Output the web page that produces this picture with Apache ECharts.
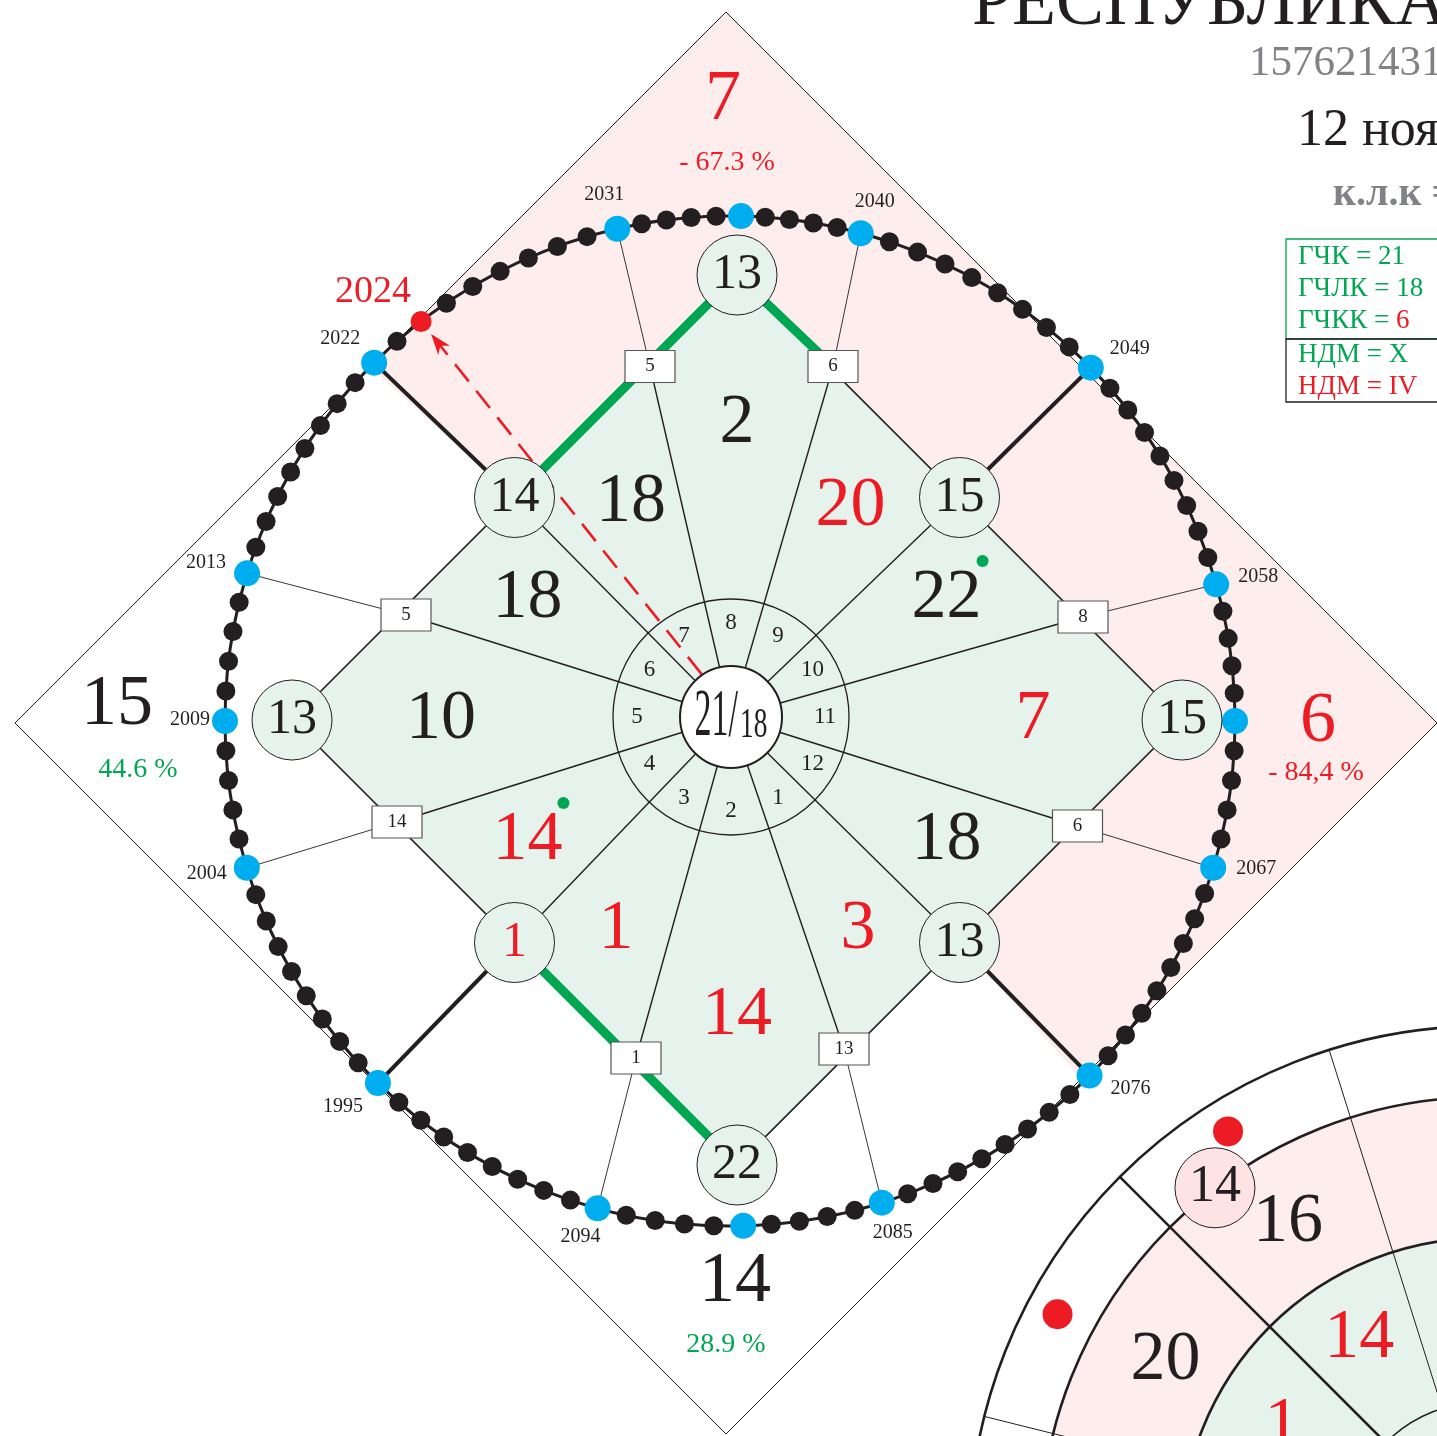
<!DOCTYPE html>
<html>
<head>
<meta charset="utf-8">
<title>РЕСПУБЛИКА</title>
<script src="https://cdn.jsdelivr.net/npm/echarts@6/dist/echarts.min.js"></script>
<style>
  html, body { margin: 0; padding: 0; background: #fff; }
  #chart { width: 1437px; height: 1436px; }
</style>
</head>
<body>
<div id="chart"></div>
<script>
// ===== данные =====
const hubTop = '21/', hubBottom = '18';
const ringLabels = ['1', '2', '3', '4', '5', '6', '7', '8', '9', '10', '11', '12'];
// сектора ромба, от 0° (справа) против часовой
const sectorValues = [7, 22, 20, 2, 18, 18, 10, 14, 1, 14, 3, 18];
const sectorColors = ['r', 'k', 'r', 'k', 'k', 'k', 'k', 'r', 'r', 'r', 'r', 'k'];
const sectorMarks  = [0, 1, 0, 0, 0, 0, 0, 1, 0, 0, 0, 0];
// круги на ромбе: 0°, 45°, 90° ...
const nodeValues = [15, 15, 13, 14, 13, 1, 22, 13];
const nodeColors = ['k', 'k', 'k', 'k', 'k', 'r', 'k', 'k'];
// годы на внешнем круге (цикл 108 лет)
const firstYear = 1995, stepYears = 9, cycleYears = 108;
const keyYears = [1995, 2004, 2013, 2022, 2031, 2040, 2049, 2058, 2067, 2076, 2085, 2094];
// квадратики на лучах к ключевым годам (на диагоналях — круги)
const boxValues = [null, 14, 5, null, 5, 6, null, 8, 6, null, 13, 1];
const axisDotLabels = ['', '', '2009', ''];   // синие точки на осях: право, верх, лево, низ
const markedYear = 2024;
// внешние четверти: верх, право, низ, лево
const quarterValues = [7, 6, 14, 15];
const quarterPercents = ['- 67.3 %', '- 84,4 %', '28.9 %', '44.6 %'];
const quarterColors = ['r', 'r', 'k', 'k'];
const quarterPctColors = ['r', 'r', 'g', 'g'];
// зелёные отрезки по ромбу
const greenEdges = [['n135', 'n90'], ['n90', 'b2040'], ['n225', 'n270']];
// шапка
const titleText = 'РЕСПУБЛИКА';
const codeText = '157621431';
const dateText = '12 ноября';
const klkText = 'к.л.к =';
const infoRows = [
  [['ГЧК = ', 'g'], ['21', 'g']],
  [['ГЧЛК = ', 'g'], ['18', 'g']],
  [['ГЧКК = ', 'g'], ['6', 'r']],
  [['НДМ = ', 'g'], ['X', 'g']],
  [['НДМ = ', 'r'], ['IV', 'r']]
];
// вторая схема в углу
const subOuterValues = [16, 20];
const subInnerValues = [14, 1];
const subNodeValue = 14;

// ===== оформление и разметка =====
const INK = '#231f20', RED = '#ed1c24', GREEN = '#00a651', BLUE = '#00aeef';
const PINK = '#fdeeed', MINT = '#e5f3ec', GRAY = '#808285';
const COL = { r: RED, k: INK, g: GREEN };
const FONT = '"Liberation Serif", "Times New Roman", serif';

const W = 1437, H = 1436;
const CX = 732, CY = 720;
const rad = d => d * Math.PI / 180;
function pol(r, deg, o) {
  o = o || [0, 0];
  return [o[0] + r * Math.cos(rad(deg)), o[1] + r * Math.sin(rad(deg))];
}
function pix(x, y) { return [x - CX, CY - y]; }

const HUB = pix(731, 717), DIA = pix(737, 720), DOT = pix(730, 721), OUT = pix(726, 723);
const R_OUT = 711, R_DIAM = 445, R_DOTS = 505, R_RING = 118, R_HUB = 51, R_NODE = 40;
const R_DIAG = R_DIAM / Math.SQRT2;
// углы ключевых точек на круге (как в макете), и точек на осях
const keyAngles = [225.8, 196.9, 163, 134.8, 102.9, 75, 44.4, 15.7, -16.9, -44.6, -72.5, -105.2];
const axisAngles = [0, 88.75, 180, -88.5];
// смещение подписей годов от точки, px
const keyLabelOffsets = [[-35, 24], [-40, 6], [-41, -11], [-34, -24], [-13, -34], [14, -31],
  [39, -19], [42, -8], [43, 1], [41, 13], [11, 30], [-17, 28]];
const axisLabelOffset = [-35, -1];
// центры квадратиков на холсте (по порядку keyYears)
const boxCenters = [null, [397, 822], [406, 615], null, [650, 366.5], [833, 366.5],
  null, [1083, 617], [1077.5, 826], null, [844, 1049], [636, 1058]];

function yearAngle(y) {
  const n = ((y - firstYear) % cycleYears + cycleYears) % cycleYears;
  const i = Math.floor(n / stepYears), k = n % stepYears;
  const a0 = keyAngles[i];
  let a1 = keyAngles[(i + 1) % 12];
  if (a1 > a0) a1 -= 360;
  let ax = null;
  axisAngles.forEach(a => [a - 360, a, a + 360].forEach(b => { if (b < a0 && b > a1) ax = b; }));
  if (ax === null) return a0 + (a1 - a0) * k / stepYears;
  return k < 5 ? a0 + (ax - a0) * k / 5 : ax + (a1 - ax) * (k - 4) / 5;
}
const yearPos = y => pol(R_DOTS, yearAngle(y), DOT);

const anchors = {};
nodeValues.forEach((v, i) => {
  const a = i * 45;
  anchors['n' + a] = pol(a % 90 === 0 ? R_DIAM : R_DIAG, a, DIA);
});
keyYears.forEach((y, i) => { if (boxCenters[i]) anchors['b' + y] = pix(boxCenters[i][0], boxCenters[i][1]); });

// ===== слой заливок =====
const fills = [];
const outMid = a => pol(R_OUT / Math.SQRT2, a, OUT);
const outTip = a => pol(R_OUT, a, OUT);
fills.push({ t: 'poly', pts: [outTip(90), outMid(45), anchors.n45, anchors.n90, anchors.n135, outMid(135)], fill: PINK });
fills.push({ t: 'poly', pts: [outTip(0), outMid(-45), anchors.n315, anchors.n0, anchors.n45, outMid(45)], fill: PINK });
fills.push({ t: 'poly', pts: [outTip(0), outTip(90), outTip(180), outTip(270)], stroke: INK, lw: 1 });
fills.push({ t: 'poly', pts: [anchors.n0, anchors.n90, anchors.n180, anchors.n270], fill: MINT, stroke: INK, lw: 1.6 });

// ===== слой линий =====
const lines = [];
const diagNode = { 1995: 'n225', 2022: 'n135', 2049: 'n45', 2076: 'n315' };
keyYears.forEach(y => {
  const d = yearPos(y);
  const m = diagNode[y] ? anchors[diagNode[y]] : anchors['b' + y];
  lines.push({ t: 'line', pts: [HUB, m], stroke: INK, lw: 1.4 });
  lines.push({ t: 'line', pts: [m, d], stroke: INK, lw: diagNode[y] ? 4 : 0.9 });
});
lines.push({ t: 'circle', p: HUB, r: R_RING, stroke: INK, lw: 1.3 });
greenEdges.forEach(e => {
  lines.push({ t: 'line', pts: [anchors[e[0]], anchors[e[1]]], stroke: GREEN, lw: 9 });
});
lines.push({ t: 'circle', p: DOT, r: R_DOTS, stroke: INK, lw: 3 });
// стрелка к отмеченному году
(function () {
  const s = pol(52, 124.5, HUB), m = yearPos(markedYear);
  const L = Math.hypot(m[0] - s[0], m[1] - s[1]);
  const u = [(m[0] - s[0]) / L, (m[1] - s[1]) / L], n = [-u[1], u[0]];
  const e = [m[0] - u[0] * 16, m[1] - u[1] * 16];
  const at = (d, w) => [e[0] - u[0] * d + n[0] * w, e[1] - u[1] * d + n[1] * w];
  lines.push({ t: 'line', pts: [s, at(14, 0)], stroke: RED, lw: 2.6, dash: [22, 12] });
  lines.push({ t: 'poly', pts: [e, at(21, 7.5), at(15, 0), at(21, -7.5)], fill: RED });
})();

// ===== точки годов =====
const dots = [];
for (let y = firstYear; y < firstYear + cycleYears; y++) {
  const key = keyYears.indexOf(y) >= 0, red = y === markedYear;
  dots.push({
    value: yearPos(y),
    symbolSize: red ? 21 : key ? 26 : 19,
    itemStyle: { color: red ? RED : key ? BLUE : INK, opacity: 1 }
  });
}
axisAngles.forEach(a => {
  dots.push({ value: pol(R_DOTS, a, DOT), symbolSize: 26, itemStyle: { color: BLUE, opacity: 1 } });
});

// ===== верхний слой: круги, рамки, подписи =====
const upper = [];
const txt = (p, text, fs, fill, o) => Object.assign({ t: 'text', p, text: String(text), fs, fill: fill || INK }, o || {});
const shift = (p, d) => [p[0] + d[0], p[1] - d[1]];

// сектора
const sectorAngleNudge = { 60: 2, 120: -4 };
sectorValues.forEach((v, i) => {
  const a = i * 30;
  const p = pol(a % 90 === 0 ? 296 : 242, a + (sectorAngleNudge[a] || 0), DIA);
  upper.push(txt(p, v, 70, COL[sectorColors[i]]));
  if (sectorMarks[i]) upper.push({ t: 'circle', p: [p[0] + 36, p[1] + 38], r: 6, fill: GREEN });
});
// центр
upper.push({ t: 'circle', p: HUB, r: R_HUB, fill: '#fff', stroke: INK, lw: 2 });
upper.push(txt(shift(HUB, [7, 0]), hubTop, 68, INK, { align: 'right', sx: 0.5 }));
upper.push(txt(shift(HUB, [9, 9]), hubBottom, 42, INK, { align: 'left', sx: 0.65 }));
// кольцо
ringLabels.forEach((lab, i) => {
  upper.push(txt(pol(94, 330 - 30 * (i + 1), HUB), lab, 23));
});
// круги на ромбе
nodeValues.forEach((v, i) => {
  const p = anchors['n' + i * 45];
  upper.push({ t: 'circle', p, r: R_NODE, fill: MINT, stroke: INK, lw: 1 });
  upper.push(txt(p, v, 50, COL[nodeColors[i]]));
});
// квадратики
boxValues.forEach((v, i) => {
  if (v === null) return;
  const p = anchors['b' + keyYears[i]];
  upper.push({ t: 'rect', p, w: 50, h: 32, fill: '#fff', stroke: '#555', lw: 1.2 });
  upper.push(txt(p, v, 19));
});
// годы
keyYears.forEach((y, i) => upper.push(txt(shift(yearPos(y), keyLabelOffsets[i]), y, 20)));
axisDotLabels.forEach((lab, i) => {
  if (lab) upper.push(txt(shift(pol(R_DOTS, axisAngles[i], DOT), axisLabelOffset), lab, 20));
});
upper.push(txt(pix(373, 292), markedYear, 38, RED));
// четверти
const quarterNumPos = [pix(723, 100), pix(1318, 722), pix(735, 1282), pix(117, 705)];
const quarterPctPos = [pix(727, 163), pix(1316, 773), pix(726, 1345), pix(138, 770)];
quarterValues.forEach((v, i) => {
  upper.push(txt(quarterNumPos[i], v, 72, COL[quarterColors[i]]));
  upper.push(txt(quarterPctPos[i], quarterPercents[i], 28, COL[quarterPctColors[i]]));
});
// шапка
upper.push(txt(pix(972, 5), titleText, 72, INK, { align: 'left' }));
upper.push(txt(pix(1249, 64), codeText, 43, GRAY, { align: 'left' }));
upper.push(txt(pix(1297, 131), dateText, 52, INK, { align: 'left' }));
upper.push(txt(pix(1333, 195), klkText, 40, GRAY, { align: 'left', fw: 'bold' }));
upper.push({ t: 'box', p1: pix(1286, 239), p2: pix(1520, 339), stroke: GREEN, lw: 1.3 });
upper.push({ t: 'box', p1: pix(1286, 339), p2: pix(1520, 402), stroke: INK, lw: 1.3 });
const infoRowY = [257, 289, 321, 355, 387];
infoRows.forEach((row, i) => {
  upper.push(txt(pix(1298, infoRowY[i]), row.map(c => '{' + c[1] + '|' + c[0] + '}').join(''), 27, GREEN, {
    align: 'left',
    rich: {
      g: { fill: GREEN, fontSize: 27, fontFamily: FONT },
      r: { fill: RED, fontSize: 27, fontFamily: FONT }
    }
  }));
});

// ===== вторая схема (обрезана краем) =====
const sub = [];
const SC = pix(1484, 1541);
sub.push({ t: 'circle', p: SC, r: 515, fill: '#fff', stroke: INK, lw: 2.6 });
sub.push({ t: 'circle', p: SC, r: 444, fill: PINK, stroke: INK, lw: 2.6 });
sub.push({ t: 'circle', p: SC, r: 303, fill: MINT, stroke: INK, lw: 2.6 });
sub.push({ t: 'circle', p: SC, r: 139, fill: MINT, stroke: INK, lw: 1.5 });
[107.5, 166].forEach(a => sub.push({ t: 'line', pts: [pol(139, a, SC), pol(515, a, SC)], stroke: INK, lw: 1 }));
sub.push({ t: 'line', pts: [pol(139, 135, SC), pol(515, 135, SC)], stroke: INK, lw: 2.6 });
[122, 152].forEach(a => sub.push({ t: 'circle', p: pol(483, a, SC), r: 15, fill: RED }));
sub.push({ t: 'circle', p: pol(444, 127.3, SC), r: R_NODE, fill: '#fde3e3', stroke: INK, lw: 1 });
sub.push(txt(pol(444, 127.3, SC), subNodeValue, 52));
const subAngles = [121.6, 150.5];
subOuterValues.forEach((v, i) => sub.push(txt(pol([374, 366][i], subAngles[i], SC), v, 70)));
subInnerValues.forEach((v, i) => sub.push(txt(pol([238, 232][i], subAngles[i], SC), v, 70, RED)));

// ===== отрисовка =====
function toEl(s, api) {
  const c = p => api.coord(p);
  const k = api.size([1, 1])[0];
  if (s.t === 'poly') {
    return { type: 'polygon', shape: { points: s.pts.map(c) },
      style: { fill: s.fill || 'none', stroke: s.stroke || null, lineWidth: s.lw || 1 } };
  }
  if (s.t === 'line') {
    return { type: 'polyline', shape: { points: s.pts.map(c) },
      style: { fill: null, stroke: s.stroke, lineWidth: s.lw, lineDash: s.dash || null } };
  }
  if (s.t === 'circle') {
    const p = c(s.p);
    return { type: 'circle', shape: { cx: p[0], cy: p[1], r: s.r * k },
      style: { fill: s.fill || 'none', stroke: s.stroke || null, lineWidth: s.lw || 1 } };
  }
  if (s.t === 'rect') {
    const p = c(s.p);
    return { type: 'rect', shape: { x: p[0] - s.w / 2, y: p[1] - s.h / 2, width: s.w, height: s.h },
      style: { fill: s.fill, stroke: s.stroke, lineWidth: s.lw } };
  }
  if (s.t === 'box') {
    const a = c(s.p1), b = c(s.p2);
    return { type: 'rect', shape: { x: a[0], y: a[1], width: b[0] - a[0], height: b[1] - a[1] },
      style: { fill: 'none', stroke: s.stroke, lineWidth: s.lw } };
  }
  const p = c(s.p);
  return {
    type: 'text', x: p[0], y: p[1], scaleX: s.sx || 1,
    style: {
      text: s.text, fill: s.fill, fontSize: s.fs, fontFamily: FONT, fontWeight: s.fw || 'normal',
      align: s.align || 'center', verticalAlign: 'middle', rich: s.rich
    }
  };
}

function layer(name, shapes, z) {
  return {
    type: 'custom', name, z, silent: true, animation: false,
    coordinateSystem: 'cartesian2d',
    data: shapes.map(() => [0, 0]),
    renderItem: (params, api) => toEl(shapes[params.dataIndex], api)
  };
}

const chart = echarts.init(document.getElementById('chart'));
chart.setOption({
  animation: false,
  backgroundColor: '#fff',
  grid: { left: 0, right: 0, top: 0, bottom: 0 },
  xAxis: { type: 'value', min: -CX, max: W - CX, show: false },
  yAxis: { type: 'value', min: CY - H, max: CY, show: false },
  series: [
    layer('fills', fills, 1),
    layer('lines', lines, 2),
    { type: 'scatter', name: 'years', z: 3, silent: true, symbol: 'circle', data: dots },
    layer('upper', upper, 4),
    layer('sub', sub, 5)
  ]
});
</script>
</body>
</html>
